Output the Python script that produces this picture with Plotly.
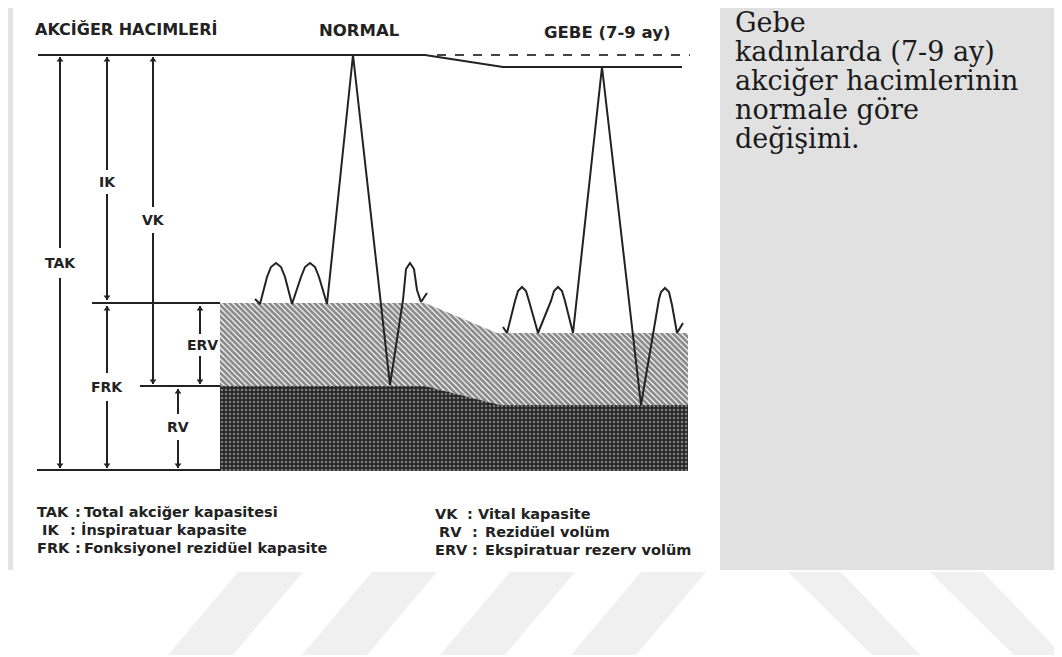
import plotly.graph_objects as go

W, H = 1062, 657
OFF = 8  # page margin of the browser

# ---- spirogram traces (pixel-space readings from the picture) ----
normal_x = [255, 260, 267, 271, 276, 281, 285, 292, 301, 305, 310, 315, 319, 327, 353, 390, 403, 406, 410, 414, 417, 421, 427]
normal_y = [299, 304, 277, 267, 263, 267, 277, 304, 277, 267, 263, 267, 277, 304, 55, 385, 300, 269, 263, 269, 290, 302, 293]

gebe_x = [503, 507, 515, 518, 522, 526, 529, 538, 551, 554, 558, 562, 565, 573, 602, 641, 659, 661, 665, 669, 672, 677, 683]
gebe_y = [327, 333, 301, 291, 287, 291, 301, 333, 301, 291, 287, 291, 301, 333, 67, 405, 299, 292, 288, 292, 305, 333, 323]

# ---- lung volume levels ----
top_x = [38, 425, 503, 682]
top_y = [55, 55, 67, 67]
dash_x = [437, 690]
dash_y = [55, 55]

erv_x = [220, 425, 497, 688, 688, 500, 425, 220]
erv_y = [303, 303, 333, 333, 405, 405, 386, 386]
rv_x = [220, 425, 500, 688, 688, 220]
rv_y = [386, 386, 405, 405, 471, 471]

# horizontal reference lines at left: (x0, x1, y)
ref_lines = [(92, 220, 303), (140, 220, 386), (37, 220, 470)]

# double arrows: (label, x, y_top, y_bottom, label_x, label_y, gap_half)
arrows = [
    ("TAK", 60, 57, 468, 60, 263, 15),
    ("IK", 107, 57, 300, 107, 182, 12),
    ("VK", 153, 57, 384, 153, 220, 13),
    ("FRK", 107, 306, 468, 107, 387, 14),
    ("ERV", 200, 306, 384, 202, 345, 11),
    ("RV", 178, 389, 468, 178, 427, 13),
]

titles = [("AKCİĞER HACIMLERİ", 33, 29, "left", 16), ("NORMAL", 359, 30, "center", 16.5),
          ("GEBE (7-9 ay)", 607, 32, "center", 16.5)]

legend_left = [("TAK", 35, ":", 73, "Total akciğer kapasitesi", 82, 512),
               ("IK", 40, ":", 68, "İnspiratuar kapasite", 79, 530),
               ("FRK", 35, ":", 73, "Fonksiyonel rezidüel kapasite", 82, 548)]
legend_right = [("VK", 433, ":", 465, "Vital kapasite", 476, 514),
                ("RV", 437, ":", 470, "Rezidüel volüm", 483, 532),
                ("ERV", 433, ":", 470, "Ekspiratuar rezerv volüm", 483, 550)]

panel_text = ["Gebe", "kadınlarda (7-9 ay)", "akciğer hacimlerinin", "normale göre", "değişimi."]
panel_y = [22, 51, 80, 109, 138]

# watermark stripes
slash_left = [168, 302, 440, 571]
back_left = [788, 930]

INK = "#222222"
SANS = "DejaVu Sans"
fig = go.Figure()

def poly(xs, ys, color):
    fig.add_trace(go.Scatter(x=xs, y=ys, fill="toself", fillcolor=color, line=dict(width=0),
                             mode="lines", hoverinfo="skip"))

def line(xs, ys, width=2, dash=None, color=INK):
    fig.add_trace(go.Scatter(x=xs, y=ys, mode="lines", line=dict(color=color, width=width, dash=dash),
                             hoverinfo="skip"))

# background panels
poly([720, 1062, 1062, 720], [0, 0, 570, 570], "#e1e1e1")
poly([8, 13, 13, 8], [0, 0, 570, 570], "#e3e3e3")
for bl in slash_left:
    poly([bl, bl + 65, bl + 135, bl + 70], [655, 655, 572, 572], "#f0f0f0")
for tl in back_left:
    poly([tl, tl + 53, tl + 132, tl + 84], [572, 572, 655, 655], "#f0f0f0")

# patterned volumes
fig.add_trace(go.Scatter(x=erv_x, y=erv_y, fill="toself", mode="lines", line=dict(width=0),
                         fillcolor="#ffffff",
                         fillpattern=dict(shape="\\", fgcolor="#0e0e0e", bgcolor="#ffffff", size=4, solidity=0.7),
                         hoverinfo="skip"))
fig.add_trace(go.Scatter(x=rv_x, y=rv_y, fill="toself", mode="lines", line=dict(width=0),
                         fillcolor="#262626",
                         fillpattern=dict(shape=".", fgcolor="#d0d0d0", bgcolor="#262626", size=4, solidity=0.35),
                         hoverinfo="skip"))

# level lines
line(top_x, top_y)
line(dash_x, dash_y, dash="dash", color="#444444")
for x0, x1, y in ref_lines:
    line([x0, x1], [y, y])

# spirograms
line(normal_x, normal_y)
line(gebe_x, gebe_y)

# arrows with labels
ann = []
for lab, x, yt, yb, lx, ly, g in arrows:
    line([x, x], [yt, ly - g])
    line([x, x], [ly + g, yb])
    fig.add_trace(go.Scatter(x=[x, x], y=[yt + 3, yb - 3], mode="markers",
                             marker=dict(symbol=["triangle-up", "triangle-down"], size=6, color=INK),
                             hoverinfo="skip"))
    ann.append(dict(x=lx, y=ly, text="<b>%s</b>" % lab, showarrow=False,
                    font=dict(family=SANS, size=14, color=INK), xanchor="center", yanchor="middle"))

for t, x, y, al, sz in titles:
    ann.append(dict(x=x, y=y, text="<b>%s</b>" % t, showarrow=False, xanchor=al, yanchor="middle",
                    font=dict(family=SANS, size=sz, color=INK)))

for rows in (legend_left, legend_right):
    for a, ax_, c, cx, d, dx, y in rows:
        for txt, xx in ((a, ax_), (c, cx), (d, dx)):
            ann.append(dict(x=xx, y=y, text="<b>%s</b>" % txt, showarrow=False, xanchor="left",
                            yanchor="middle", font=dict(family=SANS, size=14.5, color=INK)))

for txt, y in zip(panel_text, panel_y):
    ann.append(dict(x=733, y=y, text=txt, showarrow=False, xanchor="left", yanchor="middle",
                    font=dict(family="DejaVu Serif", size=27, color="#1a1a1a")))

fig.update_layout(
    width=W - OFF, height=H - OFF, margin=dict(l=0, r=0, t=0, b=0), showlegend=False,
    paper_bgcolor="white", plot_bgcolor="white",
    xaxis=dict(range=[OFF, W], visible=False, fixedrange=True),
    yaxis=dict(range=[H, OFF], visible=False, fixedrange=True),
    annotations=ann,
)
fig.write_html("out.html")
